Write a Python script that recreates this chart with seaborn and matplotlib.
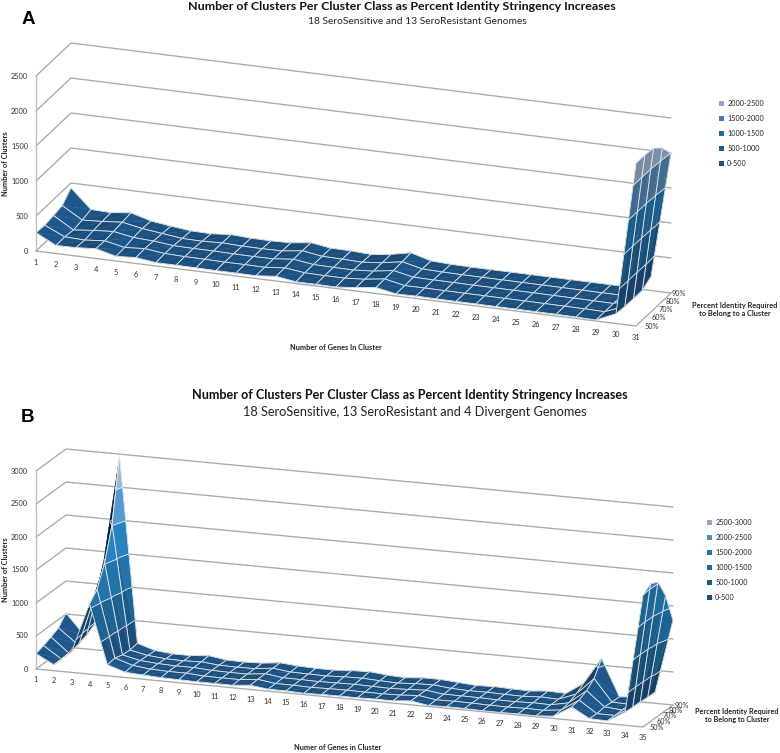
import numpy as np
import matplotlib
matplotlib.use("Agg")
import matplotlib.pyplot as plt
from matplotlib.patches import Patch
from matplotlib.colors import to_rgb
from mpl_toolkits.mplot3d import proj3d
from mpl_toolkits.mplot3d.art3d import Poly3DCollection, Line3DCollection
import seaborn as sns

W, H = 780, 753

identity_labels = ["50%", "60%", "70%", "80%", "90%"]

# Panel A: clusters per class, one list per identity threshold
a_50 = [262,115,120,140,67,85,48,48,45,42,42,40,67,24,24,22,48,85,30,35,32,30,30,28,28,26,25,22,14,140,2324]
a_60 = [250,120,110,135,75,95,60,52,50,45,45,42,70,35,30,30,50,90,30,32,30,28,28,26,26,24,22,20,15,125,2324]
a_70 = [271,100,130,150,100,85,55,50,50,45,42,45,75,35,30,28,48,92,32,30,28,26,26,24,24,22,20,18,14,120,2305]
a_80 = [295,124,140,165,110,75,40,35,48,38,36,40,78,35,30,22,50,100,33,25,22,20,20,18,18,16,15,14,13,120,2190]
a_90 = [430,157,148,181,100,62,30,25,48,33,30,38,76,33,30,15,52,110,30,17,12,12,12,12,12,11,10,10,10,200,1995]

# Panel B
b_50 = [232,91,318,1065,167,80,65,50,45,40,40,38,65,30,30,20,28,30,30,35,35,60,15,25,22,15,14,18,14,35,200,50,40,200,1995]
b_60 = [270,95,360,1200,185,100,70,60,60,42,40,40,70,32,32,25,32,35,32,32,38,58,18,22,20,14,12,18,14,45,220,40,40,190,2086]
b_70 = [318,100,400,1515,150,90,70,60,62,45,40,40,72,36,35,30,36,40,35,30,40,55,20,20,18,12,10,20,15,70,280,60,40,187,2030]
b_80 = [371,165,470,2010,140,85,60,55,65,40,35,40,72,40,36,32,45,50,38,28,45,52,25,15,18,12,8,25,15,120,380,50,40,175,1742]
b_90 = [515,210,565,2965,160,75,50,50,75,35,30,40,70,48,38,38,55,65,40,25,50,50,30,10,20,10,5,30,20,200,600,45,70,170,1283]

a_bands = ["0-500", "500-1000", "1000-1500", "1500-2000", "2000-2500"]
a_colors = ["#1a4e7c", "#1b5d8c", "#1f6a9e", "#4d7ba6", "#8fa3bd"]
b_bands = ["0-500", "500-1000", "1000-1500", "1500-2000", "2000-2500", "2500-3000"]
b_colors = ["#1a4e7c", "#1b5c8a", "#1f6a9c", "#2478b0", "#4f8cbf", "#8fa9c9"]

sns.set_theme(style="white")
plt.rcParams["font.family"] = ["Lato", "DejaVu Sans"]
fig = plt.figure(figsize=(W / 100, H / 100), dpi=100, facecolor="white")

GRID = "#a9a9a9"
TICK = "#303030"
LIGHT = np.array([0.5, -0.6, 0.6])


def txt(x, y, s, **kw):
    kw.setdefault("ha", "center")
    kw.setdefault("va", "center")
    fig.text(x / W, 1 - y / H, s, **kw)


def project(ax, x, y, z):
    xs, ys, _ = proj3d.proj_transform(x, y, z, ax.get_proj())
    dx, dy = ax.transData.transform((xs, ys))
    return dx, H - dy


def clip(poly, lo, hi):
    def half(pts, level, keep_above):
        out = []
        for k in range(len(pts)):
            p, q = pts[k], pts[(k + 1) % len(pts)]
            pin = p[2] >= level if keep_above else p[2] <= level
            qin = q[2] >= level if keep_above else q[2] <= level
            if pin:
                out.append(p)
            if pin != qin:
                t = (level - p[2]) / (q[2] - p[2])
                out.append(tuple(np.array(p) + t * (np.array(q) - np.array(p))))
        return out
    pts = half(poly, lo, True)
    return half(pts, hi, False) if pts else pts


def surface_panel(rows, bands, colors, zmax, origin, vx, vy, zpx, rect_px, xlab_dy, pct_dx, pct_size):
    Z = np.array(rows, dtype=float)
    nj, ni = Z.shape
    a, b = vx[1] / vx[0], vy[1] / vy[0]
    t, s = np.sqrt(b / a), np.sqrt(a * b)
    az, el = -np.arctan(t), np.arcsin(s)
    L = (vx[0] / np.sin(-az), vy[0] / np.cos(az), zpx / np.cos(el))

    ax = fig.add_axes([0, 0, 1, 1], projection="3d", computed_zorder=False)
    ax.set_proj_type("ortho")
    ax.view_init(elev=np.degrees(el), azim=np.degrees(az), roll=0)
    ax.set_xticks([])
    ax.set_yticks([])
    ax.set_zticks([])
    ax.set_xlim(1, ni, view_margin=0)
    ax.set_ylim(0, nj - 1, view_margin=0)
    ax.set_zlim(0, zmax, view_margin=0)
    ax.set_axis_off()
    ax.patch.set_alpha(0)

    # fit the 3D box to the target pixel frame
    S = rect_px
    ax.set_position([(origin[0] + vx[0] / 2 - S / 2) / W, 1 - (origin[1] + S / 2) / H, S / W, S / H])
    ax.set_box_aspect(L, zoom=1.0)
    ax.apply_aspect()
    p0 = project(ax, 1, 0, 0)
    p1 = project(ax, ni, 0, 0)
    ax.set_box_aspect(L, zoom=vx[0] / (p1[0] - p0[0]))
    p0 = project(ax, 1, 0, 0)
    pos = ax.get_position(original=True)
    ax.set_position([pos.x0 + (origin[0] - p0[0]) / W, pos.y0 - (origin[1] - p0[1]) / H, pos.width, pos.height])
    ax.apply_aspect()

    # walls and floor edges, with labels placed from the projected data positions
    xs = np.arange(1, ni + 1)
    for z in np.arange(0, zmax + 1, 500):
        ax.plot([1, 1, ni], [0, nj - 1, nj - 1], [z, z, z], color=GRID, lw=0.95, zorder=0, clip_on=False)
        px, py = project(ax, 1, 0, z)
        txt(px - 8, py, f"{int(z)}", ha="right", fontsize=5.3, color=TICK)
    ax.plot([1, 1], [0, 0], [0, zmax], color="#bdbdbd", lw=0.95, zorder=0, clip_on=False)
    ax.plot([1, ni, ni], [0, 0, nj - 1], [0, 0, 0], color=GRID, lw=0.95, zorder=0, clip_on=False)
    for x in xs:
        px, py = project(ax, x, 0, 0)
        txt(px, py + xlab_dy, str(x), fontsize=5.3, color=TICK)
    for j, lab in enumerate(identity_labels):
        px, py = project(ax, ni, j, 0)
        txt(px + pct_dx[0] + (pct_dx[1] - pct_dx[0]) * j / (nj - 1), py, lab, ha="left", fontsize=pct_size, color=TICK)

    # the surface, cell by cell from far to near
    sx, sy, sz = L[0] / (ni - 1), L[1] / (nj - 1), L[2] / zmax
    cam = np.array([np.cos(el) * np.cos(az), np.cos(el) * np.sin(az), np.sin(el)])
    zo = 1
    for i in range(ni - 1):
        for j in range(nj - 1, 0, -1):
            c = [(i + 1, j - 1, Z[j - 1, i]), (i + 2, j - 1, Z[j - 1, i + 1]),
                 (i + 2, j, Z[j, i + 1]), (i + 1, j, Z[j, i])]
            faces, fcs, segs = [], [], []
            for tri in ([c[0], c[1], c[2]], [c[0], c[2], c[3]]):
                pa = np.array(tri) * [sx, sy, sz]
                n = np.cross(pa[1] - pa[0], pa[2] - pa[0])
                n = n / np.linalg.norm(n)
                if n @ cam < 0:
                    n = -n
                lam = n @ LIGHT
                f = 0.22 if lam < 0.25 else float(np.clip(1 + 0.5 * (lam / 0.6 - 1), 0.82, 1.12))
                for b_i, col in enumerate(colors):
                    lo, hi = b_i * 500, (b_i + 1) * 500
                    poly = clip(tri, lo, hi)
                    if len(poly) >= 3:
                        faces.append(poly)
                        fcs.append(tuple(np.clip(np.array(to_rgb(col)) * f, 0, 1)))
                for lev in range(500, zmax, 500):
                    cross = []
                    for k in range(3):
                        p, q = np.array(tri[k]), np.array(tri[(k + 1) % 3])
                        if (p[2] - lev) * (q[2] - lev) < 0:
                            cross.append(p + (lev - p[2]) / (q[2] - p[2]) * (q - p))
                    if len(cross) == 2:
                        segs.append(cross)
            pc = Poly3DCollection(faces, facecolors=fcs, edgecolors=fcs, linewidths=0.25, zorder=zo)
            pc.set_clip_on(False)
            ax.add_collection3d(pc, autolim=False)
            for k in range(4):
                segs.append([c[k], c[(k + 1) % 4]])
            lc = Line3DCollection(segs, colors="#e6eef5", linewidths=0.6, zorder=zo + 0.5)
            lc.set_clip_on(False)
            ax.add_collection3d(lc, autolim=False)
            zo += 1
    return ax


surface_panel([a_50, a_60, a_70, a_80, a_90], a_bands, a_colors, 2500,
              origin=(36, 251), vx=(600, 75), vy=(35, 33), zpx=175, rect_px=760,
              xlab_dy=11, pct_dx=(9, 1), pct_size=5.3)
surface_panel([b_50, b_60, b_70, b_80, b_90], b_bands, b_colors, 3000,
              origin=(36, 669), vx=(607, 58), vy=(30, 22), zpx=198, rect_px=760,
              xlab_dy=10, pct_dx=(7, 2), pct_size=5.2)

# panel text
txt(28, 19, "A", family="Liberation Sans", fontsize=13.5, fontweight="bold", color="black")
txt(402, 7, "Number of Clusters Per Cluster Class as Percent Identity Stringency Increases",
    fontsize=8.95, fontweight="bold", color="#111111")
txt(417, 22, "18 SeroSensitive and 13 SeroResistant Genomes", fontsize=7.4, color="#222222")
txt(336, 348, "Number of Genes In Cluster", fontsize=5.3, fontweight="bold", color="#222222")
txt(6, 164, "Number of Clusters", fontsize=5.3, fontweight="bold", rotation=90, color="#222222")
txt(735, 309.5, "Percent Identity Required\nto Belong to a Cluster", fontsize=5.3, fontweight="bold",
    color="#222222", linespacing=1.25)

txt(28, 418, "B", family="Liberation Sans", fontsize=13.5, fontweight="bold", color="black")
txt(410, 395, "Number of Clusters Per Cluster Class as Percent Identity Stringency Increases",
    fontsize=9.1, fontweight="bold", color="#111111")
txt(415, 412, "18 SeroSensitive, 13 SeroResistant and 4 Divergent Genomes", fontsize=9.2, color="#222222")
txt(338, 748, "Numer of Genes in Cluster", fontsize=5.3, fontweight="bold", color="#222222")
txt(6, 570, "Number of Clusters", fontsize=5.3, fontweight="bold", rotation=90, color="#222222")
txt(737, 715.5, "Percent Identity Required\nto Belong to Cluster", fontsize=5.2, fontweight="bold",
    color="#222222", linespacing=1.25)


def legend(bands, colors, x, y):
    handles = [Patch(facecolor=c, edgecolor="none", label=b) for b, c in zip(bands, colors)][::-1]
    fig.legend(handles=handles, loc="upper left", bbox_to_anchor=(x / W, 1 - y / H), frameon=False,
               fontsize=5.2, handlelength=0.75, handleheight=0.75, handletextpad=0.45,
               labelspacing=1.1, borderpad=0, borderaxespad=0, labelcolor="#222222")


legend(a_bands, a_colors, 718.5, 100)
legend(b_bands, b_colors, 706.5, 519)

fig.savefig("out.png", dpi=100, facecolor="white")
